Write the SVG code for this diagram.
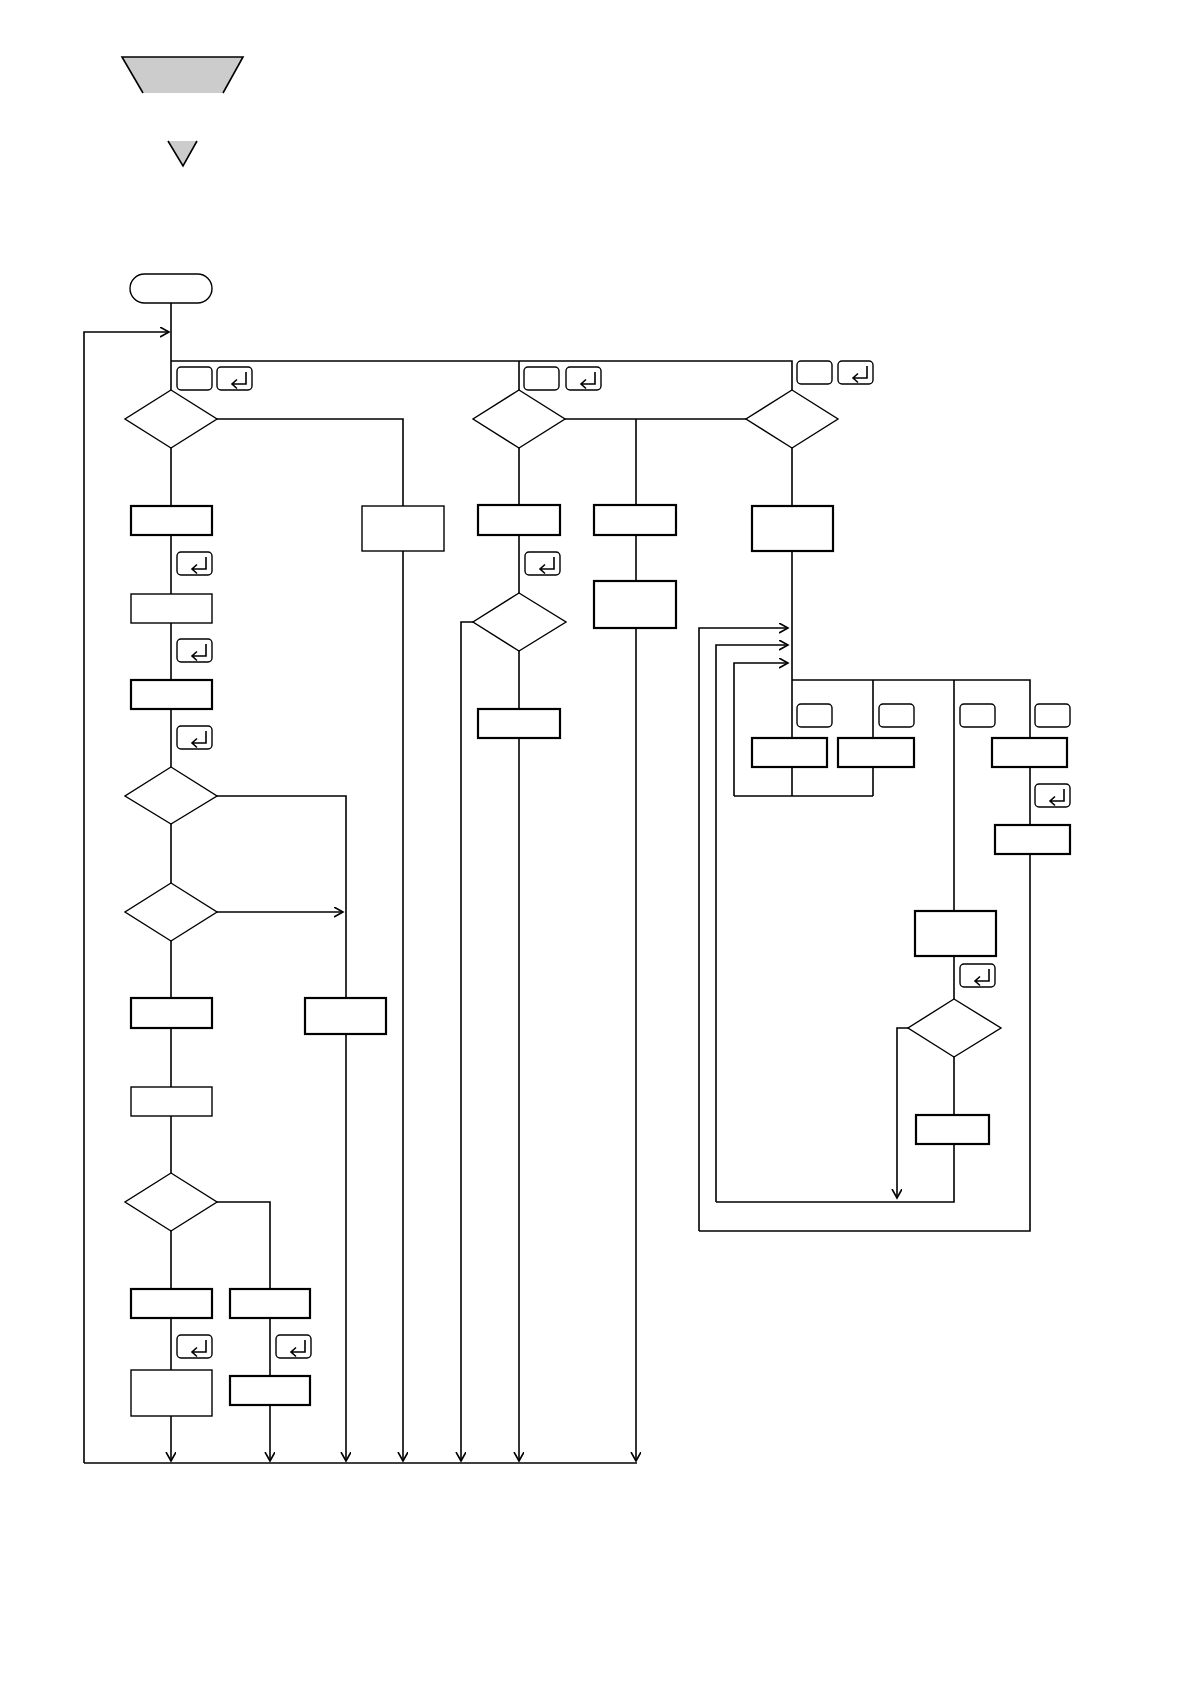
<svg xmlns="http://www.w3.org/2000/svg" width="1190" height="1684" viewBox="0 0 1190 1684">
<style>
.n{fill:#fff;stroke:#000;stroke-width:2.2}
.t{fill:#fff;stroke:#000;stroke-width:1.4}
.c{fill:none;stroke:#000;stroke-width:1.6}
.k{fill:#fff;stroke:#000;stroke-width:1.4}
.g{fill:none;stroke:#000;stroke-width:1.6}
</style>
<defs>
<marker id="ah" markerUnits="userSpaceOnUse" markerWidth="12" markerHeight="12" refX="9" refY="5" orient="auto">
<path d="M0,0 L9,5 L0,10" fill="none" stroke="#000" stroke-width="1.6"/>
</marker>
<g id="key"><rect class="k" x="0" y="0" width="35" height="23" rx="4"/></g>
<g id="enter"><rect class="k" x="0" y="0" width="35" height="23" rx="4"/><path class="g" d="M29,5 V17 H15 M20,12.5 L15,17 L20,21.5"/></g>
</defs>

<g id="header">
<polygon points="122,57 243,57 223,93 143,93" fill="#cccccc"/>
<polyline points="143,93 122,57 243,57 223,93" fill="none" stroke="#000" stroke-width="1.6"/>
<polygon points="168,141 197,141 183,166" fill="#cccccc"/>
<polyline points="168,141 183,166 197,141" fill="none" stroke="#000" stroke-width="1.6"/>
</g>

<g id="connectors">
<path class="c" d="M171,303 V390"/>
<path class="c" d="M84,1463 V332 H169" marker-end="url(#ah)"/>
<path class="c" d="M171,361 H792 V390 M519,361 V390"/>
<path class="c" d="M217,419 H403 V506 M171,448 V506"/>
<path class="c" d="M171,535 V594 M171,623 V680 M171,709 V767"/>
<path class="c" d="M217,796 H346 V998 M171,824 V883"/>
<path class="c" d="M217,912 H343" marker-end="url(#ah)"/>
<path class="c" d="M171,941 V998 M171,1028 V1087 M171,1116 V1173"/>
<path class="c" d="M217,1202 H270 V1289 M171,1231 V1289"/>
<path class="c" d="M171,1318 V1370 M270,1318 V1376"/>
<path class="c" d="M171,1416 V1461" marker-end="url(#ah)"/>
<path class="c" d="M270,1405 V1461" marker-end="url(#ah)"/>
<path class="c" d="M346,1034 V1461" marker-end="url(#ah)"/>
<path class="c" d="M403,551 V1461" marker-end="url(#ah)"/>
<path class="c" d="M473,622 H461 V1461" marker-end="url(#ah)"/>
<path class="c" d="M519,738 V1461" marker-end="url(#ah)"/>
<path class="c" d="M636,628 V1461" marker-end="url(#ah)"/>
<path class="c" d="M84,1463 H637" stroke-width="2.2"/>
<path class="c" d="M565,419 H746 M636,419 V505 M636,535 V581"/>
<path class="c" d="M519,448 V505 M519,535 V593 M519,651 V709"/>
<path class="c" d="M792,448 V506 M792,551 V738" stroke-width="2"/>
<path class="c" d="M699,1231 V628 H788" marker-end="url(#ah)"/>
<path class="c" d="M716,1202 V645 H788" marker-end="url(#ah)"/>
<path class="c" d="M734,796 V663 H788" marker-end="url(#ah)"/>
<path class="c" d="M792,680 H1030 V738 M873,680 V738 M954,680 V911"/>
<path class="c" d="M792,767 V796 M873,767 V796 M734,796 H873"/>
<path class="c" d="M1030,767 V825 M1030,854 V1231 H699"/>
<path class="c" d="M954,956 V999 M954,1057 V1115 M954,1144 V1202 H716"/>
<path class="c" d="M908,1028 H897 V1198" marker-end="url(#ah)"/>
</g>

<g id="start"><rect class="t" x="130" y="274" width="82" height="29" rx="14.5" stroke-width="1.8"/></g>

<g id="keys">
<use href="#key" x="177" y="367"/><use href="#enter" x="217" y="367"/>
<use href="#key" x="524" y="367"/><use href="#enter" x="566" y="367"/>
<use href="#key" x="797" y="361"/><use href="#enter" x="838" y="361"/>
<use href="#enter" x="177" y="552"/><use href="#enter" x="177" y="639"/><use href="#enter" x="177" y="726"/>
<use href="#enter" x="525" y="552"/>
<use href="#enter" x="177" y="1335"/><use href="#enter" x="276" y="1335"/>
<use href="#key" x="797" y="704"/><use href="#key" x="879" y="704"/><use href="#key" x="960" y="704"/><use href="#key" x="1035" y="704"/>
<use href="#enter" x="1035" y="784"/>
<use href="#enter" x="960" y="964"/>
</g>

<g id="d1"><polygon class="t" points="171,390 217,419 171,448 125,419" stroke-width="1.6"/></g>
<g id="d2"><polygon class="t" points="519,390 565,419 519,448 473,419" stroke-width="1.6"/></g>
<g id="d3"><polygon class="t" points="792,390 838,419 792,448 746,419" stroke-width="1.6"/></g>
<g id="d4"><polygon class="t" points="171,767 217,796 171,824 125,796" stroke-width="1.6"/></g>
<g id="d5"><polygon class="t" points="171,883 217,912 171,941 125,912" stroke-width="1.6"/></g>
<g id="d6"><polygon class="t" points="171,1173 217,1202 171,1231 125,1202" stroke-width="1.6"/></g>
<g id="d7"><polygon class="t" points="519,593 566,622 519,651 473,622" stroke-width="1.6"/></g>
<g id="d8"><polygon class="t" points="954,999 1001,1028 954,1057 908,1028" stroke-width="1.6"/></g>

<g id="bA"><rect class="n" x="131" y="506" width="81" height="29"/></g>
<g id="bB"><rect class="t" x="131" y="594" width="81" height="29"/></g>
<g id="bC"><rect class="n" x="131" y="680" width="81" height="29"/></g>
<g id="bD"><rect class="n" x="131" y="998" width="81" height="30"/></g>
<g id="bE"><rect class="n" x="305" y="998" width="81" height="36"/></g>
<g id="bF"><rect class="t" x="131" y="1087" width="81" height="29"/></g>
<g id="bG"><rect class="n" x="131" y="1289" width="81" height="29"/></g>
<g id="bH"><rect class="n" x="230" y="1289" width="80" height="29"/></g>
<g id="bI"><rect class="t" x="131" y="1370" width="81" height="46"/></g>
<g id="bJ"><rect class="n" x="230" y="1376" width="80" height="29"/></g>
<g id="bK"><rect class="t" x="362" y="506" width="82" height="45"/></g>
<g id="bL"><rect class="n" x="478" y="505" width="82" height="30"/></g>
<g id="bM"><rect class="n" x="478" y="709" width="82" height="29"/></g>
<g id="bN"><rect class="n" x="594" y="505" width="82" height="30"/></g>
<g id="bO"><rect class="n" x="594" y="581" width="82" height="47"/></g>
<g id="bP"><rect class="n" x="752" y="506" width="81" height="45"/></g>
<g id="bQ"><rect class="n" x="752" y="738" width="75" height="29"/></g>
<g id="bR"><rect class="n" x="838" y="738" width="76" height="29"/></g>
<g id="bS"><rect class="n" x="992" y="738" width="75" height="29"/></g>
<g id="bT"><rect class="n" x="995" y="825" width="75" height="29"/></g>
<g id="bU"><rect class="n" x="915" y="911" width="81" height="45"/></g>
<g id="bV"><rect class="n" x="916" y="1115" width="73" height="29"/></g>
</svg>
